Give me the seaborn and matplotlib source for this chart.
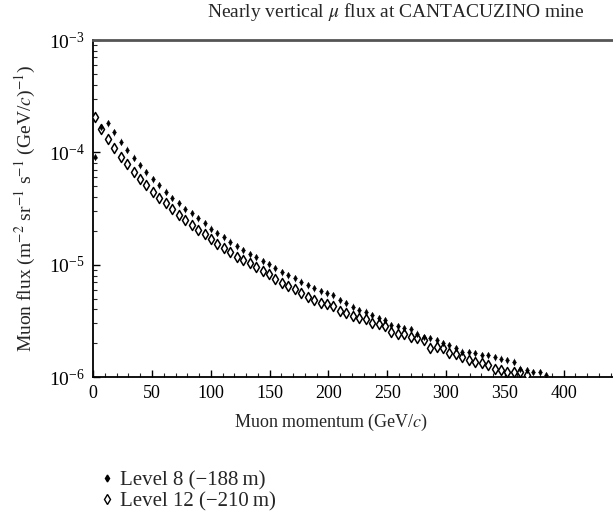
import numpy as np
import pandas as pd
import matplotlib
matplotlib.use("Agg")
import matplotlib.pyplot as plt
from matplotlib.ticker import LogLocator, MultipleLocator, NullFormatter
from matplotlib.lines import Line2D
import seaborn as sns

# ---- data ----
momentum_l12 = [1.5 + 5.48 * i for i in range(68)]
flux_l12 = [2.05e-4, 1.61e-4, 1.31e-4, 1.085e-4, 9.14e-5, 7.82e-5, 6.68e-5, 5.79e-5,
            5.08e-5, 4.40e-5, 3.90e-5, 3.51e-5, 3.15e-5, 2.76e-5, 2.50e-5, 2.25e-5,
            2.03e-5, 1.87e-5, 1.69e-5, 1.525e-5, 1.414e-5, 1.287e-5, 1.176e-5, 1.099e-5,
            1.027e-5, 9.58e-6, 8.82e-6, 8.19e-6, 7.40e-6, 6.86e-6, 6.45e-6, 6.06e-6,
            5.59e-6, 5.15e-6, 4.84e-6, 4.60e-6, 4.46e-6, 4.28e-6, 3.86e-6, 3.68e-6,
            3.52e-6, 3.35e-6, 3.31e-6, 3.00e-6, 2.99e-6, 2.87e-6, 2.53e-6, 2.44e-6,
            2.43e-6, 2.28e-6, 2.21e-6, 2.15e-6, 1.80e-6, 1.86e-6, 1.80e-6, 1.62e-6,
            1.60e-6, 1.51e-6, 1.41e-6, 1.37e-6, 1.32e-6, 1.28e-6, 1.19e-6, 1.15e-6,
            1.11e-6, 1.11e-6, 1.11e-6, 1.04e-6]

momentum_l8 = [1.5 + 5.48 * i for i in range(71)]
flux_l8 = [9.14e-5, 1.67e-4, 1.81e-4, 1.51e-4, 1.243e-4, 1.059e-4, 8.99e-5, 7.71e-5,
           6.64e-5, 5.79e-5, 5.11e-5, 4.46e-5, 3.94e-5, 3.51e-5, 3.13e-5, 2.86e-5,
           2.58e-5, 2.33e-5, 2.10e-5, 1.92e-5, 1.75e-5, 1.60e-5, 1.464e-5, 1.35e-5,
           1.235e-5, 1.16e-5, 1.076e-5, 1.012e-5, 9.27e-6, 8.59e-6, 8.08e-6, 7.60e-6,
           7.07e-6, 6.58e-6, 6.19e-6, 5.82e-6, 5.59e-6, 5.36e-6, 4.84e-6, 4.55e-6,
           4.22e-6, 3.94e-6, 3.81e-6, 3.56e-6, 3.32e-6, 3.21e-6, 2.90e-6, 2.84e-6,
           2.71e-6, 2.65e-6, 2.44e-6, 2.28e-6, 2.21e-6, 2.13e-6, 1.99e-6, 1.92e-6,
           1.80e-6, 1.68e-6, 1.67e-6, 1.64e-6, 1.57e-6, 1.57e-6, 1.50e-6, 1.46e-6,
           1.41e-6, 1.37e-6, 1.19e-6, 1.15e-6, 1.11e-6, 1.11e-6, 1.04e-6]
rel_err_l8 = 0.07
p_halfwidth = 1.6

series_labels = ["Level 8 (\u2212188\u2009m)", "Level 12 (\u2212210\u2009m)"]
x_ticks = [0, 50, 100, 150, 200, 250, 300, 350, 400]

# ---- style ----
sns.set_theme(style="ticks")
plt.rcParams["font.family"] = ["Liberation Serif", "DejaVu Serif"]
plt.rcParams["mathtext.fontset"] = "stix"

fig = plt.figure(figsize=(6.13, 5.14), dpi=100)
ax = fig.add_axes([0.152, 0.2665, 0.848, 0.6555])

df8 = pd.DataFrame({"p": momentum_l8, "flux": flux_l8})
df12 = pd.DataFrame({"p": momentum_l12, "flux": flux_l12})

ax.errorbar(df8["p"], df8["flux"], yerr=df8["flux"] * rel_err_l8, xerr=p_halfwidth,
            fmt="none", ecolor="#a9afc4", elinewidth=0.8, capsize=0, zorder=2)
sns.scatterplot(data=df12, x="p", y="flux", ax=ax, marker="d", s=26,
                facecolor="white", edgecolor="black", linewidth=1.1, zorder=3)
sns.scatterplot(data=df8, x="p", y="flux", ax=ax, marker="d", s=9,
                color="black", edgecolor="black", linewidth=0.5, zorder=4)

ax.set_yscale("log")
ax.set_ylim(1e-6, 1e-3)
ax.set_xlim(0, 442)
ax.set_xticks(x_ticks)
ax.xaxis.set_minor_locator(MultipleLocator(10))
ax.yaxis.set_major_locator(LogLocator(base=10))
ax.yaxis.set_minor_locator(LogLocator(base=10, subs=np.arange(2, 10)))
ax.yaxis.set_minor_formatter(NullFormatter())

ax.tick_params(axis="both", which="major", direction="in", length=5, width=1,
               colors="black", pad=6)
ax.tick_params(axis="x", which="major", labelsize=13)
ax.tick_params(axis="y", which="major", labelsize=14)
ax.tick_params(axis="both", which="minor", direction="in", length=3, width=0.8)
ax.tick_params(top=False, right=False, which="both")

for s in ["left", "bottom"]:
    ax.spines[s].set_color("black")
    ax.spines[s].set_linewidth(1.3)
ax.spines["top"].set_color("#555555")
ax.spines["top"].set_linewidth(2)
ax.spines["right"].set_visible(False)

ax.set_xlabel("")
ax.set_ylabel(r"Muon flux (m$^{-2}$ sr$^{-1}$ s$^{-1}$ (GeV/$c$)$^{-1}$)",
              fontsize=14, labelpad=8)

fig.text(0.54, 0.178, r"Muon momentum (GeV/$c$)", ha="center", va="center", fontsize=13)
fig.text(0.645, 0.976, r"Nearly vertical $\mu$ flux at CANTACUZINO mine",
         ha="center", va="center", fontsize=14)

handles = [
    Line2D([], [], linestyle="none", marker="d", markersize=3.5, color="black"),
    Line2D([], [], linestyle="none", marker="d", markersize=5,
           markerfacecolor="white", markeredgecolor="black", markeredgewidth=1),
]
fig.legend(handles, series_labels, loc="upper left", bbox_to_anchor=(0.15, 0.1),
           frameon=False, fontsize=15, handlelength=0.6, handletextpad=0.35,
           labelspacing=0.05, borderaxespad=0)

fig.savefig("out.png", dpi=100)
